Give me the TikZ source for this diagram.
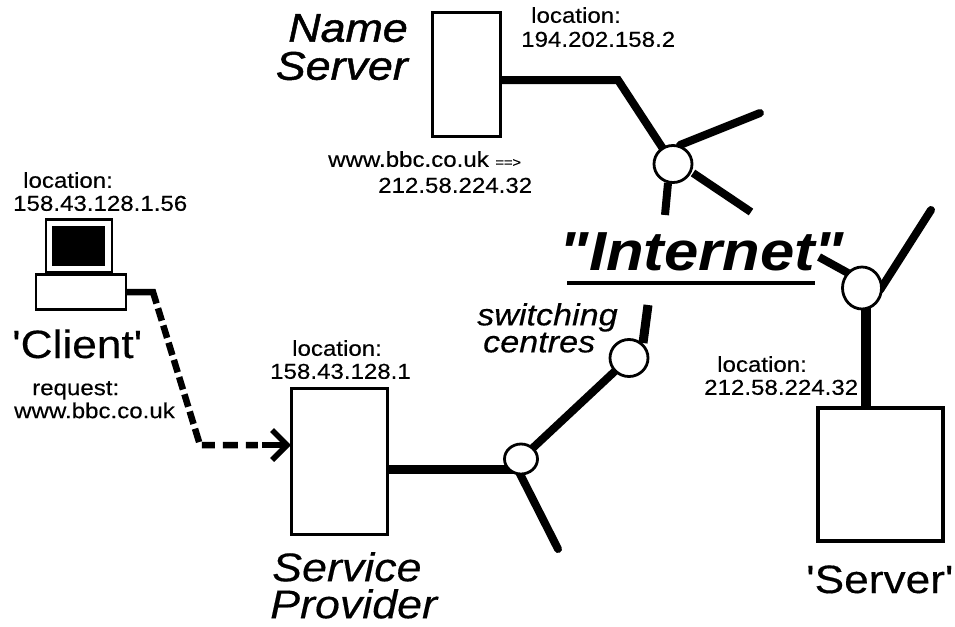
\documentclass[tikz,border=0pt]{standalone}
\usepackage{fontspec}
\setmainfont{Liberation Sans}[FakeStretch=1.12,FakeBold=0.35,Ligatures=TeXOff]
\newfontfamily\heavyf{Liberation Sans}[FakeStretch=1.12,FakeBold=1.2,Ligatures=TeXOff]
\newfontfamily\plainf{Liberation Sans}[FakeStretch=1.12,Ligatures=TeXOff]
\usetikzlibrary{arrows.meta,shapes.geometric}
\tikzset{
 boxs/.style={draw=black,line width=3pt,fill=white,inner sep=0pt,outer sep=0pt},
 sw/.style={draw=black,line width=2.8pt,fill=white,ellipse,inner sep=0pt},
 wire/.style={line width=8pt,black,line cap=butt},
 rwire/.style={wire,line cap=round},
 lbl/.style={font=\fontsize{21.5pt}{23pt}\selectfont,align=left,inner sep=0pt,anchor=north west},
 namet/.style={font=\fontsize{39.5pt}{42pt}\selectfont,inner sep=0pt,anchor=base west},
}
\begin{document}
\begin{tikzpicture}[x=1pt,y=-1pt]
\useasboundingbox (0,0) rectangle (955,626);
% boxes
\node[boxs,minimum width=68pt,minimum height=124pt] (ns) at (466,74.5) {};
\node[boxs,minimum width=96pt,minimum height=146pt] (sp) at (339,461) {};
\node[boxs,line width=4pt,minimum width=125pt,minimum height=133pt] (srv) at (880.5,474.5) {};
\node[boxs,line width=2.2pt,minimum width=90pt,minimum height=35pt] (pc) at (81,292) {};
\node[boxs,line width=2.5pt,minimum width=66pt,minimum height=53pt] (mon) at (79,246) {};
\node[fill=black,minimum width=53pt,minimum height=40pt,inner sep=0pt] (scr) at (78.5,246) {};
% switches
\coordinate (s1) at (673,164);
\coordinate (s2) at (862,288);
\coordinate (s3) at (629,358);
\coordinate (s4) at (521,459);
% free ends
\coordinate (e1) at (760,113);
\coordinate (e2) at (751,212);
\coordinate (e3) at (665,215);
\coordinate (e4) at (931,210);
\coordinate (e5) at (819,257);
\coordinate (e6) at (648,305);
\coordinate (e7) at (558,549);
\coordinate (k1) at (618,80);
\coordinate (k2) at (153,292);
\coordinate (k3) at (200,445);
\coordinate (b1) at (680,145);
\coordinate (b2) at (693,173);
\coordinate (b3) at (668,183);
\coordinate (b4) at (880,290);
\coordinate (b5) at (848,273);
\coordinate (b6) at (643,343);
\coordinate (b7) at (518,470);
\coordinate (v1) at (866,300);
% wires
\draw[wire,line join=miter] (ns.east |- k1) -- (k1) -- (s1);
\draw[rwire] (b1) -- (e1);
\draw[wire] (b2) -- (e2);
\draw[wire] (b3) -- (e3);
\draw[rwire] (b4) -- (e4);
\draw[wire] (b5) -- (e5);
\draw[wire,line width=10pt] (v1) -- (v1 |- srv.north);
\draw[wire,line width=9pt] (b6) -- (e6);
\draw[wire] (s3) -- (s4);
\draw[rwire] (b7) -- (e7);
\draw[wire,line width=9pt] (sp.east |- 0,469) -- (s4 |- 0,469);
\draw[line width=6.5pt,line cap=butt,line join=miter,dash pattern=on 26pt off 0pt on 13pt off 5pt on 13pt off 5pt on 13pt off 5pt on 13pt off 5pt on 13pt off 5pt on 13pt off 5pt on 13pt off 5pt on 13pt off 5pt on 14pt off 5pt on 13pt off 8pt on 15pt off 8pt on 12pt off 40pt] (pc.east) -- (k2) -- (k3) -- (sp.west |- k3);
\draw[line width=6pt,-{Straight Barb[length=15pt,width=30pt,line width=5.5pt]}] (262,445) -- (sp.west |- k3);
% switch discs
\node[sw,minimum width=38pt,minimum height=37pt] (n1) at (s1) {};
\node[sw,minimum width=39pt,minimum height=42pt] (n2) at (s2) {};
\node[sw,minimum width=38pt,minimum height=37pt] (n3) at (s3) {};
\node[sw,minimum width=33pt,minimum height=30pt] (n4) at (s4) {};
% labels
\node[font=\fontsize{40pt}{38pt}\selectfont\heavyf\itshape,align=right,inner sep=0pt,anchor=north east] (t1) at (408,14) {Name\\Server};
\node[lbl,font=\fontsize{21.5pt}{24pt}\selectfont] (t2) at (521,7) {\hspace*{10pt}location:\\194.202.158.2};
\node[lbl,font=\fontsize{21.5pt}{26pt}\selectfont] (t3) at (328,151) {www.bbc.co.uk {\fontsize{13pt}{13pt}\selectfont ==>}\\\hspace*{50pt}212.58.224.32};
\node[lbl] (t4) at (13,172) {\hspace*{10pt}location:\\158.43.128.1.56};
\node[namet] (t5) at (12,358) {'Client'};
\node[lbl] (t6) at (14,381) {\hspace*{18pt}request:\\www.bbc.co.uk};
\node[lbl] (t7) at (270,340) {\hspace*{22pt}location:\\158.43.128.1};
\node[font=\fontsize{40pt}{37pt}\selectfont\itshape,align=left,inner sep=0pt,anchor=north west] (t8) at (270,552) {\hspace*{2pt}Service\\Provider};
\node[lbl] (t9) at (704,356) {\hspace*{13pt}location:\\212.58.224.32};
\node[namet] (t10) at (806,593) {'Server'};
\node[font=\fontsize{30.5pt}{27pt}\selectfont\itshape,align=left,inner sep=0pt,anchor=north west] (t11) at (477,303) {switching\\\hspace*{6pt}centres};
\node[font=\fontsize{55pt}{55pt}\selectfont\plainf\itshape\bfseries,inner sep=0pt,anchor=base] (t12) at (702,270) {"Internet"};
\coordinate (u1) at (567,283);
\coordinate (u2) at (815,283);
\draw[line width=4pt] (u1) -- (u2);
\end{tikzpicture}
\end{document}
